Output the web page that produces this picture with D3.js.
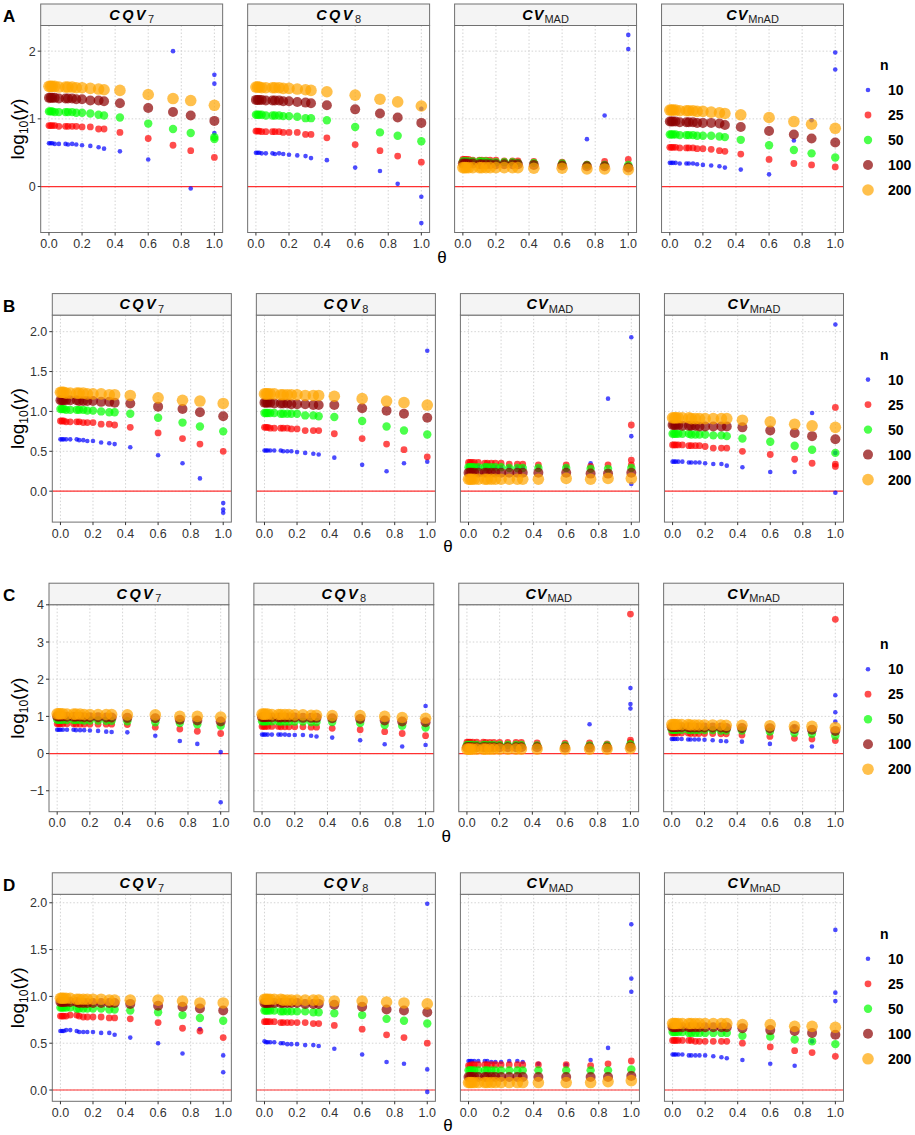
<!DOCTYPE html>
<html>
<head>
<meta charset="utf-8">
<script src="https://cdn.jsdelivr.net/npm/d3@7.9.0/dist/d3.min.js"></script>
<style>
  body { margin: 0; background: #fff; }
  text { font-family: "Liberation Sans", Arial, sans-serif; }
</style>
</head>
<body>
<svg id="chart" width="915" height="1135"></svg>
<script>
// theta values on the x axis; the last slot (theta = 1) may hold several values
const thetas = [0, 0.01, 0.02, 0.035, 0.06, 0.1, 0.115, 0.14, 0.165, 0.2, 0.25, 0.3, 0.333, 0.429, 0.6, 0.75, 0.857, 1];
const nLevels = [10, 25, 50, 100, 200];
const nColors = ['#0000FF', '#FF0000', '#00FF00', '#8B0000', '#FFA500'];
const nRadius = [2.3, 3.4, 4.2, 5.0, 5.8];
const facetNames = [['CQV', '7'], ['CQV', '8'], ['CV', 'MAD'], ['CV', 'MnAD']];
const rowLabels = ['A', 'B', 'C', 'D'];
const xTicks = [0, 0.2, 0.4, 0.6, 0.8, 1];
const yTicksA = [0, 1, 2];
const yTicksB = [0, 0.5, 1, 1.5, 2];
const yTicksC = [-1, 0, 1, 2, 3, 4];
const yTicksD = [0, 0.5, 1, 1.5, 2];

// log10(gamma), one row per n (10, 25, 50, 100, 200)
const A_CQV7 = [
  [0.64,0.64,0.64,0.63,0.63,0.63,0.62,0.63,0.62,0.61, 0.60,0.58,0.56, 0.52,0.40,2.00,-0.03,[1.65,1.52,0.79]],
  [0.90,0.90,0.90,0.90,0.89,0.89,0.89,0.89,0.89,0.88, 0.88,0.85,0.85, 0.80,0.71,0.61,0.53,0.43],
  [1.11,1.11,1.11,1.10,1.10,1.10,1.10,1.10,1.09,1.09, 1.08,1.06,1.05, 1.02,0.93,0.85,0.79,[0.73,0.70]],
  [1.31,1.31,1.31,1.31,1.30,1.30,1.30,1.30,1.29,1.29, 1.27,1.27,1.26, 1.23,1.16,1.10,1.05,0.97],
  [1.48,1.48,1.48,1.48,1.47,1.47,1.47,1.47,1.46,1.46, 1.45,1.44,1.43, 1.42,1.36,1.30,1.27,1.20]
];
const A_CQV8 = [
  [0.50,0.50,0.50,0.49,0.49,0.49,0.48,0.49,0.48,0.47, 0.46,0.45,0.42, 0.39,0.28,0.23,0.04,[1.15,-0.15,-0.54]],
  [0.82,0.82,0.82,0.81,0.81,0.81,0.81,0.81,0.80,0.80, 0.80,0.77,0.77, 0.72,0.62,0.53,0.45,0.36],
  [1.06,1.06,1.06,1.06,1.05,1.05,1.05,1.05,1.04,1.04, 1.03,1.01,1.01, 0.98,0.88,0.80,0.75,0.67],
  [1.28,1.28,1.28,1.28,1.27,1.27,1.27,1.27,1.26,1.26, 1.25,1.24,1.23, 1.20,1.14,1.08,1.02,0.94],
  [1.47,1.47,1.47,1.46,1.46,1.46,1.46,1.46,1.45,1.45, 1.44,1.43,1.42, 1.40,1.35,1.29,1.25,1.19]
];
const A_CVMAD = [
  [0.38,0.38,0.38,0.38,0.38,0.37,0.37,0.37,0.37,0.37, 0.37,0.36,0.36, 0.35,0.34,0.70,1.05,[2.24,2.03]],
  [0.40,0.40,0.40,0.40,0.39,0.39,0.39,0.39,0.39,0.39, 0.38,0.38,0.38, 0.37,0.36,0.33,0.37,0.40],
  [0.37,0.37,0.37,0.37,0.37,0.37,0.37,0.37,0.36,0.36, 0.36,0.36,0.35, 0.35,0.34,0.32,0.32,0.32],
  [0.34,0.34,0.34,0.34,0.34,0.33,0.33,0.33,0.33,0.33, 0.33,0.33,0.33, 0.32,0.31,0.30,0.30,0.28],
  [0.28,0.28,0.28,0.28,0.28,0.28,0.28,0.28,0.28,0.28, 0.28,0.28,0.28, 0.27,0.27,0.26,0.26,0.25]
];
const A_CVMnAD = [
  [0.35,0.35,0.35,0.35,0.34,0.34,0.34,0.34,0.33,0.32, 0.31,0.30,0.28, 0.25,0.18,0.68,0.98,[1.98,1.73]],
  [0.58,0.58,0.58,0.58,0.57,0.57,0.57,0.57,0.56,0.56, 0.55,0.53,0.52, 0.48,0.40,0.34,0.32,0.29],
  [0.77,0.77,0.77,0.77,0.76,0.76,0.76,0.76,0.75,0.75, 0.75,0.74,0.73, 0.69,0.61,0.54,0.49,0.43],
  [0.96,0.96,0.96,0.96,0.95,0.95,0.95,0.95,0.94,0.94, 0.94,0.93,0.91, 0.88,0.82,0.77,0.71,0.65],
  [1.13,1.13,1.13,1.13,1.12,1.12,1.12,1.12,1.11,1.11, 1.10,1.09,1.08, 1.06,1.02,0.96,0.92,0.86]
];

const B_CQV7 = [
  [0.65,0.65,0.65,0.65,0.65,0.65,0.64,0.64,0.63,0.63, 0.61,0.60,0.59, 0.55,0.45,0.35,0.16,[-0.15,-0.23,-0.27]],
  [0.88,0.88,0.88,0.87,0.87,0.87,0.87,0.86,0.86,0.86, 0.84,0.84,0.83, 0.80,0.73,0.66,0.59,0.50],
  [1.03,1.03,1.03,1.02,1.02,1.02,1.02,1.02,1.01,1.01, 1.00,0.99,0.99, 0.97,0.92,0.86,0.81,0.75],
  [1.14,1.14,1.14,1.14,1.14,1.14,1.13,1.13,1.13,1.13, 1.12,1.12,1.11, 1.10,1.06,1.03,0.99,0.94],
  [1.24,1.24,1.24,1.23,1.23,1.23,1.23,1.23,1.22,1.22, 1.22,1.21,1.21, 1.20,1.17,1.14,1.13,1.10]
];
const B_CQV8 = [
  [0.51,0.51,0.51,0.51,0.51,0.51,0.50,0.50,0.50,0.49, 0.48,0.47,0.46, 0.42,0.33,0.25,0.35,[1.76,0.37]],
  [0.80,0.80,0.80,0.79,0.79,0.79,0.79,0.79,0.78,0.78, 0.76,0.76,0.76, 0.72,0.66,0.59,0.52,0.43],
  [0.98,0.98,0.98,0.98,0.98,0.97,0.97,0.97,0.97,0.97, 0.95,0.95,0.94, 0.93,0.88,0.81,0.76,0.71],
  [1.11,1.11,1.11,1.11,1.10,1.10,1.10,1.10,1.09,1.09, 1.09,1.08,1.08, 1.08,1.04,1.01,0.97,0.92],
  [1.22,1.22,1.22,1.22,1.22,1.21,1.21,1.21,1.21,1.21, 1.20,1.20,1.20, 1.19,1.16,1.13,1.11,1.08]
];
const B_CVMAD = [
  [0.31,0.31,0.31,0.31,0.31,0.31,0.31,0.30,0.30,0.30, 0.30,0.30,0.30, 0.30,0.30,0.35,1.16,[1.93,0.69,0.09]],
  [0.36,0.36,0.36,0.36,0.36,0.35,0.35,0.35,0.35,0.35, 0.34,0.34,0.34, 0.33,0.33,0.31,0.33,[0.83,0.39,0.33]],
  [0.30,0.30,0.30,0.30,0.30,0.30,0.30,0.30,0.30,0.30, 0.29,0.29,0.29, 0.29,0.29,0.28,0.28,0.29],
  [0.23,0.23,0.23,0.23,0.23,0.23,0.23,0.23,0.23,0.23, 0.23,0.23,0.23, 0.23,0.23,0.22,0.22,0.23],
  [0.15,0.15,0.15,0.15,0.15,0.15,0.15,0.15,0.15,0.15, 0.15,0.15,0.15, 0.15,0.16,0.15,0.16,0.16]
];
const B_CVMnAD = [
  [0.37,0.37,0.37,0.37,0.37,0.36,0.36,0.36,0.36,0.35, 0.34,0.34,0.32, 0.30,0.24,0.24,0.98,[2.09,0.48,-0.02]],
  [0.58,0.58,0.58,0.58,0.58,0.57,0.57,0.57,0.57,0.56, 0.54,0.54,0.54, 0.50,0.46,0.40,0.35,[1.05,0.34,0.31]],
  [0.72,0.72,0.72,0.72,0.72,0.72,0.71,0.71,0.71,0.71, 0.70,0.70,0.69, 0.66,0.62,0.57,0.52,0.48],
  [0.83,0.83,0.83,0.83,0.82,0.82,0.82,0.82,0.81,0.81, 0.81,0.81,0.81, 0.80,0.76,0.73,0.69,0.65],
  [0.92,0.92,0.92,0.92,0.92,0.92,0.91,0.91,0.91,0.91, 0.91,0.91,0.91, 0.89,0.87,0.84,0.82,0.80]
];

const C_CQV7 = [
  [0.64,0.64,0.64,0.64,0.64,0.64,0.63,0.63,0.63,0.62, 0.61,0.59,0.58, 0.57,0.48,0.34,0.26,[0.04,-1.31]],
  [0.80,0.80,0.80,0.80,0.80,0.80,0.79,0.79,0.79,0.79, 0.79,0.79,0.79, 0.78,0.71,0.66,0.60,0.54],
  [0.91,0.91,0.91,0.91,0.90,0.90,0.90,0.90,0.89,0.89, 0.89,0.88,0.88, 0.87,0.84,0.82,0.79,0.75],
  [1.00,1.00,1.00,1.00,0.99,0.99,0.99,0.99,0.98,0.98, 0.98,0.97,0.97, 0.96,0.95,0.91,0.89,0.86],
  [1.07,1.07,1.07,1.07,1.06,1.06,1.06,1.06,1.05,1.05, 1.05,1.05,1.05, 1.04,1.04,1.00,1.00,0.98]
];
const C_CQV8 = [
  [0.51,0.51,0.51,0.51,0.51,0.51,0.51,0.51,0.50,0.50, 0.50,0.48,0.46, 0.43,0.36,0.25,0.19,[1.28,0.23]],
  [0.73,0.73,0.73,0.73,0.73,0.73,0.72,0.72,0.72,0.72, 0.72,0.71,0.71, 0.68,0.64,0.59,0.54,0.48],
  [0.87,0.87,0.87,0.87,0.87,0.87,0.86,0.86,0.86,0.86, 0.86,0.85,0.85, 0.85,0.82,0.77,0.75,0.70],
  [0.98,0.98,0.98,0.98,0.97,0.97,0.97,0.97,0.97,0.97, 0.96,0.96,0.96, 0.95,0.93,0.89,0.86,0.84],
  [1.06,1.06,1.06,1.06,1.05,1.05,1.05,1.05,1.05,1.04, 1.04,1.03,1.03, 1.02,1.02,1.00,0.97,0.95]
];
const C_CVMAD = [
  [0.26,0.26,0.26,0.26,0.26,0.26,0.26,0.26,0.25,0.25, 0.25,0.25,0.25, 0.24,0.24,0.79,0.25,[1.76,1.33,1.21]],
  [0.31,0.31,0.31,0.31,0.31,0.31,0.30,0.30,0.30,0.30, 0.30,0.30,0.30, 0.29,0.28,0.29,0.26,[3.75,0.36,0.30]],
  [0.23,0.23,0.23,0.23,0.23,0.23,0.23,0.23,0.23,0.23, 0.23,0.23,0.23, 0.22,0.22,0.22,0.22,0.25],
  [0.17,0.17,0.17,0.17,0.17,0.17,0.17,0.17,0.17,0.17, 0.17,0.17,0.17, 0.17,0.16,0.16,0.16,0.18],
  [0.12,0.12,0.12,0.12,0.12,0.12,0.12,0.12,0.12,0.12, 0.12,0.12,0.12, 0.12,0.12,0.12,0.12,0.14]
];
const C_CVMnAD = [
  [0.39,0.39,0.39,0.39,0.39,0.38,0.38,0.38,0.38,0.37, 0.36,0.34,0.33, 0.32,0.26,0.72,0.19,[1.57,1.11,0.86]],
  [0.55,0.55,0.55,0.55,0.55,0.55,0.54,0.54,0.54,0.54, 0.54,0.53,0.53, 0.50,0.46,0.41,0.39,[3.61,0.35]],
  [0.64,0.64,0.64,0.64,0.64,0.64,0.63,0.63,0.63,0.63, 0.63,0.62,0.62, 0.62,0.59,0.55,0.53,0.48],
  [0.71,0.71,0.71,0.71,0.71,0.71,0.70,0.70,0.70,0.70, 0.70,0.70,0.69, 0.69,0.68,0.66,0.64,0.61],
  [0.78,0.78,0.78,0.78,0.78,0.78,0.77,0.77,0.77,0.77, 0.77,0.77,0.76, 0.76,0.75,0.73,0.73,0.70]
];

const D_CQV7 = [
  [0.63,0.63,0.63,0.64,0.64,0.63,0.62,0.62,0.62,0.62, 0.61,0.61,0.59, 0.56,0.50,0.39,0.65,[0.37,0.19]],
  [0.79,0.79,0.79,0.79,0.80,0.80,0.79,0.78,0.78,0.78, 0.78,0.77,0.77, 0.76,0.72,0.66,0.63,0.56],
  [0.88,0.88,0.88,0.88,0.88,0.87,0.87,0.87,0.87,0.87, 0.87,0.86,0.86, 0.85,0.83,0.80,0.77,0.74],
  [0.94,0.94,0.94,0.94,0.94,0.94,0.93,0.93,0.93,0.93, 0.93,0.93,0.93, 0.92,0.90,0.89,0.87,0.85],
  [0.98,0.98,0.98,0.98,0.98,0.97,0.97,0.97,0.97,0.97, 0.97,0.96,0.96, 0.96,0.96,0.95,0.93,0.93]
];
const D_CQV8 = [
  [0.52,0.51,0.51,0.51,0.51,0.50,0.50,0.49,0.49,0.49, 0.48,0.48,0.47, 0.44,0.38,0.30,0.28,[1.99,0.22,-0.02]],
  [0.73,0.73,0.73,0.73,0.73,0.72,0.72,0.72,0.72,0.72, 0.72,0.71,0.71, 0.69,0.65,0.59,0.56,0.50],
  [0.85,0.85,0.85,0.85,0.85,0.84,0.84,0.84,0.84,0.84, 0.84,0.83,0.83, 0.82,0.80,0.76,0.74,0.71],
  [0.93,0.93,0.93,0.93,0.93,0.93,0.93,0.93,0.93,0.93, 0.92,0.92,0.92, 0.91,0.89,0.86,0.85,0.83],
  [0.97,0.97,0.97,0.97,0.97,0.97,0.96,0.96,0.96,0.96, 0.96,0.96,0.96, 0.95,0.95,0.94,0.93,0.92]
];
const D_CVMAD = [
  [0.31,0.31,0.31,0.31,0.31,0.31,0.31,0.30,0.30,0.30, 0.31,0.31,0.30, 0.28,0.27,0.32,0.45,[1.77,1.19,1.05]],
  [0.26,0.26,0.27,0.27,0.27,0.27,0.27,0.27,0.27,0.27, 0.27,0.27,0.27, 0.27,0.27,0.26,0.28,0.31],
  [0.21,0.21,0.21,0.21,0.21,0.21,0.21,0.21,0.21,0.21, 0.21,0.21,0.21, 0.21,0.21,0.21,0.21,0.22],
  [0.14,0.14,0.14,0.14,0.14,0.14,0.14,0.14,0.14,0.14, 0.14,0.14,0.14, 0.14,0.14,0.14,0.14,0.15],
  [0.08,0.08,0.08,0.08,0.08,0.08,0.08,0.08,0.08,0.08, 0.08,0.08,0.08, 0.08,0.08,0.08,0.09,0.10]
];
const D_CVMnAD = [
  [0.38,0.38,0.38,0.38,0.38,0.37,0.37,0.37,0.37,0.37, 0.36,0.35,0.34, 0.32,0.28,0.26,0.52,[1.71,1.04,0.95]],
  [0.53,0.53,0.53,0.53,0.53,0.53,0.53,0.52,0.52,0.52, 0.52,0.52,0.52, 0.50,0.46,0.42,0.40,0.36],
  [0.62,0.62,0.62,0.62,0.62,0.61,0.61,0.61,0.61,0.61, 0.61,0.61,0.61, 0.58,0.57,0.54,0.52,0.49],
  [0.67,0.67,0.67,0.67,0.67,0.67,0.67,0.67,0.67,0.67, 0.67,0.67,0.67, 0.66,0.64,0.63,0.61,0.59],
  [0.71,0.71,0.71,0.71,0.71,0.71,0.71,0.71,0.71,0.71, 0.71,0.71,0.71, 0.70,0.70,0.68,0.68,0.67]
];

const rows = [
  { panels: [A_CQV7, A_CQV8, A_CVMAD, A_CVMnAD], yTicks: yTicksA, fmt: d3.format('d'), left: 40.7 },
  { panels: [B_CQV7, B_CQV8, B_CVMAD, B_CVMnAD], yTicks: yTicksB, fmt: d3.format('.1f'), left: 52.3 },
  { panels: [C_CQV7, C_CQV8, C_CVMAD, C_CVMnAD], yTicks: yTicksC, fmt: d3.format('d'), left: 49 },
  { panels: [D_CQV7, D_CQV8, D_CVMAD, D_CVMnAD], yTicks: yTicksD, fmt: d3.format('.1f'), left: 52.3 }
];

// flatten a series into {theta, value} points
function toPoints(series) {
  let pts = [];
  series.forEach((v, j) => {
    let vals = Array.isArray(v) ? v : [v];
    vals.forEach(val => pts.push({ theta: thetas[j], value: val }));
  });
  return pts;
}

const svg = d3.select('#chart');
const right = 843.5;
const gap = 25;
const stripH = 21.5;
const panelH = 207;
const gridColor = '#CFCFCF';
const axisColor = '#333';

rows.forEach((row, i) => {
  let top = 4 + i * 289.6;
  let panelTop = top + stripH;
  let panelBottom = panelTop + panelH;
  let w = (right - row.left - 3 * gap) / 4;

  // shared y scale, ggplot style 5% expansion
  let allVals = row.panels.flatMap(p => p.flatMap(s => toPoints(s).map(d => d.value)));
  let [lo, hi] = d3.extent(allVals);
  let pad = (hi - lo) * 0.05;
  let y = d3.scaleLinear().domain([lo - pad, hi + pad]).range([panelBottom, panelTop]);

  let g = svg.append('g').attr('class', 'row');

  g.append('text')
    .attr('x', 3).attr('y', top + 18)
    .attr('font-size', 17).attr('font-weight', 'bold')
    .text(rowLabels[i]);

  row.panels.forEach((panel, k) => {
    let px = row.left + k * (w + gap);
    let x = d3.scaleLinear().domain([-0.05, 1.05]).range([px, px + w]);
    let pg = g.append('g').attr('class', 'panel');

    // grid
    pg.selectAll('line.vgrid').data(xTicks).join('line')
      .attr('class', 'vgrid')
      .attr('x1', d => x(d)).attr('x2', d => x(d))
      .attr('y1', panelTop).attr('y2', panelBottom)
      .attr('stroke', gridColor).attr('stroke-width', 0.9).attr('stroke-dasharray', '1.5,2');
    pg.selectAll('line.hgrid').data(row.yTicks).join('line')
      .attr('class', 'hgrid')
      .attr('x1', px).attr('x2', px + w)
      .attr('y1', d => y(d)).attr('y2', d => y(d))
      .attr('stroke', gridColor).attr('stroke-width', 0.9).attr('stroke-dasharray', '1.5,2');

    // reference line at 0
    pg.append('line')
      .attr('class', 'zero')
      .attr('x1', px).attr('x2', px + w)
      .attr('y1', y(0)).attr('y2', y(0))
      .attr('stroke', '#FF3030').attr('stroke-width', 1.2);

    // points, n = 10 first so the big ones sit on top
    panel.forEach((series, s) => {
      pg.selectAll('circle.n' + s).data(toPoints(series)).join('circle')
        .attr('class', 'n' + s)
        .attr('cx', d => x(d.theta))
        .attr('cy', d => y(d.value))
        .attr('r', nRadius[s])
        .attr('fill', nColors[s])
        .attr('fill-opacity', 0.7);
    });

    // panel border
    pg.append('rect')
      .attr('x', px).attr('y', panelTop).attr('width', w).attr('height', panelH)
      .attr('fill', 'none').attr('stroke', '#707070').attr('stroke-width', 1);

    // strip
    pg.append('rect')
      .attr('x', px).attr('y', top).attr('width', w).attr('height', stripH)
      .attr('fill', '#F4F4F4').attr('stroke', '#707070').attr('stroke-width', 1);
    let st = pg.append('text')
      .attr('x', px + w / 2).attr('y', top + 15.5)
      .attr('text-anchor', 'middle');
    st.append('tspan')
      .attr('font-size', 14.5).attr('font-weight', 'bold').attr('font-style', 'italic')
      .attr('letter-spacing', facetNames[k][0] === 'CQV' ? 2.4 : 1)
      .text(facetNames[k][0]);
    st.append('tspan')
      .attr('font-size', 11).attr('dy', 3.5).attr('fill', '#222')
      .text(facetNames[k][1]);

    // x axis
    pg.selectAll('line.xtick').data(xTicks).join('line')
      .attr('class', 'xtick')
      .attr('x1', d => x(d)).attr('x2', d => x(d))
      .attr('y1', panelBottom).attr('y2', panelBottom + 3)
      .attr('stroke', axisColor);
    pg.selectAll('text.xlab').data(xTicks).join('text')
      .attr('class', 'xlab')
      .attr('x', d => x(d)).attr('y', panelBottom + 15.5)
      .attr('text-anchor', 'middle')
      .attr('font-size', 12.5).attr('fill', axisColor)
      .text(d => d3.format('.1f')(d));

    // y axis on the first panel only
    if (k === 0) {
      pg.selectAll('line.ytick').data(row.yTicks).join('line')
        .attr('class', 'ytick')
        .attr('x1', px - 3).attr('x2', px)
        .attr('y1', d => y(d)).attr('y2', d => y(d))
        .attr('stroke', axisColor);
      pg.selectAll('text.ylab').data(row.yTicks).join('text')
        .attr('class', 'ylab')
        .attr('x', px - 5).attr('y', d => y(d) + 4.5)
        .attr('text-anchor', 'end')
        .attr('font-size', 12.5).attr('fill', axisColor)
        .text(d => row.fmt(d).replace('-', '\u2212'));
    }
  });

  // y title
  let yc = (panelTop + panelBottom) / 2;
  let yt = g.append('text')
    .attr('transform', `translate(24,${yc}) rotate(-90)`)
    .attr('text-anchor', 'middle')
    .attr('font-size', 19);
  yt.append('tspan').text('log');
  yt.append('tspan').attr('font-size', 12).attr('dy', 4).text('10');
  yt.append('tspan').attr('dy', -4).text('(');
  yt.append('tspan').attr('font-style', 'italic').text('\u03B3');
  yt.append('tspan').text(')');

  // x title
  g.append('text')
    .attr('x', (row.left + right) / 2).attr('y', panelBottom + 30)
    .attr('text-anchor', 'middle')
    .attr('font-size', 17)
    .text('\u03B8');

  // legend
  let lg = g.append('g').attr('class', 'legend');
  lg.append('text')
    .attr('x', 880).attr('y', top + 66)
    .attr('font-size', 14).attr('font-weight', 'bold')
    .text('n');
  nLevels.forEach((n, s) => {
    let cy = top + 86 + s * 25;
    lg.append('circle')
      .attr('cx', 868).attr('cy', cy).attr('r', nRadius[s])
      .attr('fill', nColors[s]).attr('fill-opacity', 0.7);
    lg.append('text')
      .attr('x', 888).attr('y', cy + 5)
      .attr('font-size', 14).attr('font-weight', 'bold')
      .text(n);
  });
});
</script>
</body>
</html>
